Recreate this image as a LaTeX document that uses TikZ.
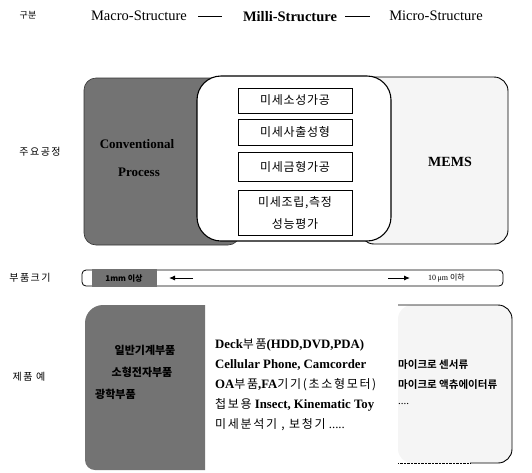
\documentclass[tikz,border=0pt]{standalone}
\usepackage{fontspec}
\setmainfont{Liberation Serif}
\newfontfamily\kr{Noto Sans CJK KR}
\newfontfamily\krb{Noto Sans CJK KR Bold}
\newfontfamily\krs[LetterSpace=14]{Noto Sans CJK KR}
\newcommand{\krtxt}[1]{{\mdseries\krs\fontsize{12}{14}\selectfont #1}}
\usetikzlibrary{arrows.meta}
\begin{document}
\begin{tikzpicture}[x=1pt,y=-1pt,
  darkfill/.style={fill=black!55},
  lightfill/.style={fill=black!4},
  rowlabel/.style={font=\kr\fontsize{10}{12}\selectfont\addfontfeatures{LetterSpace=15}},
  hdr/.style={font=\fontsize{14.5}{16}\selectfont, inner sep=0pt},
  pbox/.style={draw, line width=0.8pt, minimum width=114pt, inner sep=0pt, align=center,
    font=\kr\fontsize{12}{22}\selectfont\addfontfeatures{LetterSpace=6}},
  prod/.style={anchor=west, inner sep=0pt, font=\fontsize{12.8}{14}\selectfont\bfseries},
  hidden/.style={text=black, font=\fontsize{13}{15}\selectfont\bfseries, inner sep=0pt},
  arr/.style={-{Latex[length=6pt,width=5pt]}, line width=0.9pt}
]
\useasboundingbox (0,0) rectangle (532,472);

% ---- header
\node[font=\kr\fontsize{9}{10}\selectfont, inner sep=0pt] (gubun) at (28,15) {구분};
\node[hdr] (macro) at (139,16) {Macro-Structure};
\node[hdr, font=\fontsize{14.5}{16}\selectfont\bfseries] (milli) at (290,17) {Milli-Structure};
\node[hdr] (micro) at (436,16) {Micro-Structure};
\coordinate (l1a) at (198,16); \coordinate (l1b) at (222,16);
\coordinate (l2a) at (345,16); \coordinate (l2b) at (370,16);
\draw[line width=0.8pt] (l1a) -- (l1b);
\draw[line width=0.8pt] (l2a) -- (l2b);

% ---- row labels
\node[rowlabel] (lab1) at (40,152) {주요공정};
\node[rowlabel] (lab2) at (30,278) {부품크기};
\node[rowlabel] (lab3) at (29,377) {제품 예};

% ---- row 1
\path[darkfill, draw=black!80, line width=0.6pt, rounded corners=12] (84,78) rectangle (240,245);
\path[lightfill, draw, line width=0.9pt, rounded corners=14] (360,77) rectangle (508,244);
\path[fill=white, draw, line width=1.1pt, rounded corners=24] (197,76) rectangle (391,241);

\node[hidden] (conv1) at (137,144) {Conventional};
\node[hidden] (conv2) at (139,172) {Process};
\node[font=\fontsize{14}{16}\selectfont\bfseries, inner sep=0pt] (mems) at (450,162) {MEMS};

\node[pbox, minimum height=25pt] (p1) at (295,100.5) {미세소성가공};
\node[pbox, minimum height=26pt] (p2) at (295,132) {미세사출성형};
\node[pbox, minimum height=29pt] (p3) at (295,166.5) {미세금형가공};
\node[pbox, minimum height=45pt] (p4) at (295,212.5) {미세조립,측정\\성능평가};

% ---- row 2
\path[draw, line width=0.8pt, rounded corners=4] (82,270) rectangle (503,286);
\path[darkfill] (92,269) rectangle (157,287);
\node[text=black, font=\kr\fontsize{8}{9}\selectfont\bfseries, inner sep=0pt] (mm) at (124,278) {1mm 이상};
\coordinate (al1) at (193,278); \coordinate (al2) at (169,278);
\coordinate (ar1) at (388,278); \coordinate (ar2) at (410,278);
\draw[arr] (al1) -- (al2);
\draw[arr] (ar1) -- (ar2);
\node[anchor=west, inner sep=0pt, font=\fontsize{8}{9}\selectfont] (um) at (428,278) {10\,μm {\kr 이하}};

% ---- row 3
\path[darkfill] (205,305) -- (103,305) arc[start angle=270, end angle=180, radius=18]
  -- (85,460) arc[start angle=180, end angle=90, radius=10] -- (205,470) -- cycle;
\node[hidden, font=\kr\fontsize{11}{13}\selectfont\bfseries] (d1) at (145,350) {일반기계부품};
\node[hidden, font=\kr\fontsize{11}{13}\selectfont\bfseries] (d2) at (142,372) {소형전자부품};
\node[hidden, font=\kr\fontsize{11}{13}\selectfont\bfseries, anchor=west] (d3) at (95,394) {광학부품};

\fill[lightfill, rounded corners=14] (398,305) rectangle (512,463);
\draw[line width=0.9pt, rounded corners=14] (398,305) -- (512,305) -- (512,463) -- (470,463);
\draw[densely dotted] (470,463) -- (398,463);

\node[prod] (t1) at (215,345) {Deck\krtxt{부품}(HDD,DVD,PDA)};
\node[prod] (t2) at (215,365) {Cellular Phone, Camcorder};
\node[prod] (t3) at (215,385) {OA\krtxt{부품},FA\krtxt{기기(초소형모터)}};
\node[prod] (t4) at (215,405) {\krtxt{첩보용} Insect, Kinematic Toy};
\node[prod, font=\fontsize{12.8}{14}\selectfont] (t5) at (215,425) {\krtxt{미세분석기 , 보청기} .....};

\node[prod, font=\krb\fontsize{10.5}{13}\selectfont] (r1) at (398,365) {마이크로 센서류};
\node[prod, font=\krb\fontsize{10.5}{13}\selectfont] (r2) at (398,385) {마이크로 액츄에이터류};
\node[prod, font=\fontsize{11}{13}\selectfont] (r3) at (398,404) {....};
\end{tikzpicture}
\end{document}
